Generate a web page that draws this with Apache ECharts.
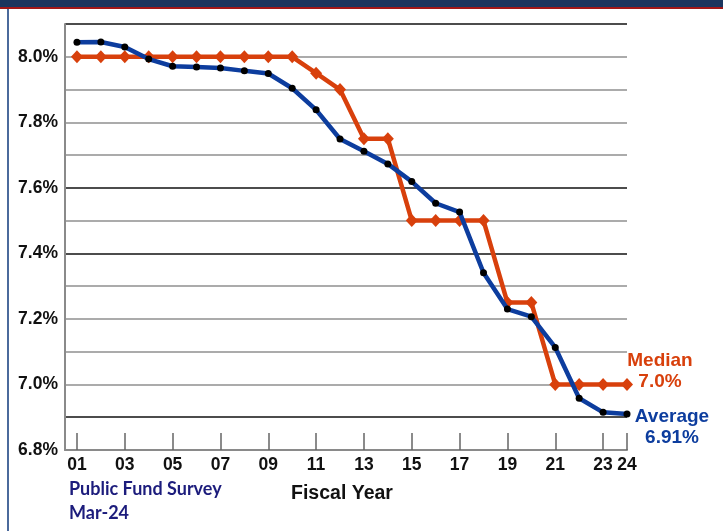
<!DOCTYPE html>
<html>
<head>
<meta charset="utf-8">
<script src="https://cdn.jsdelivr.net/npm/echarts@6/dist/echarts.min.js"></script>
<style>
  html, body { margin: 0; padding: 0; background: #fff; }
  #chart { width: 723px; height: 531px; }
</style>
</head>
<body>
<div id="chart"></div>
<script>
// Fiscal years (2001 .. 2024), shown as two-digit labels
const fiscalYears = [1, 2, 3, 4, 5, 6, 7, 8, 9, 10, 11, 12, 13, 14, 15, 16, 17, 18, 19, 20, 21, 22, 23, 24];
// Year ticks labelled along the bottom axis
const yearTicks = [1, 3, 5, 7, 9, 11, 13, 15, 17, 19, 21, 23, 24];
// Median assumed investment return (%)
const medianReturn = [8.0, 8.0, 8.0, 8.0, 8.0, 8.0, 8.0, 8.0, 8.0, 8.0, 7.95, 7.90, 7.75, 7.75, 7.5, 7.5, 7.5, 7.5, 7.25, 7.25, 7.0, 7.0, 7.0, 7.0];
// Average assumed investment return (%)
const averageReturn = [8.044, 8.045, 8.030, 7.993, 7.971, 7.969, 7.966, 7.957, 7.949, 7.904, 7.838, 7.749, 7.712, 7.673, 7.619, 7.553, 7.526, 7.341, 7.230, 7.207, 7.113, 6.958, 6.915, 6.91];

const pairs = arr => fiscalYears.map((y, i) => [y, arr[i]]);
const pad2 = v => (v < 10 ? '0' : '') + v;

const RED = '#d8400c';
const BLUE = '#0d3d9e';
const FONT = '"Liberation Sans", Arial, sans-serif';

// Gridline colours cycle from the bottom of the value axis upward
const gridColors = ['#777', '#111', '#8f8f8f', '#8f8f8f', '#8f8f8f', '#8f8f8f', '#111', '#8f8f8f', '#111', '#8f8f8f', '#8f8f8f', '#8f8f8f', '#8f8f8f', '#111'];

const chart = echarts.init(document.getElementById('chart'), null, { renderer: 'canvas' });
chart.setOption({
  animation: false,
  backgroundColor: '#fff',
  grid: { left: 65, right: 96, top: 24, bottom: 81, containLabel: false },
  xAxis: {
    type: 'value',
    min: 0.5,
    max: 24,
    axisLine: { show: true, lineStyle: { color: '#8a8a8a', width: 2 } },
    axisTick: {
      show: true, inside: true, length: 17,
      customValues: yearTicks,
      lineStyle: { color: '#666', width: 1.5 }
    },
    axisLabel: {
      show: true,
      customValues: yearTicks,
      formatter: v => pad2(v),
      color: '#111', fontFamily: FONT, fontWeight: 'bold', fontSize: 17.5,
      margin: 6
    },
    splitLine: { show: false },
    name: 'Fiscal Year',
    nameLocation: 'middle',
    nameGap: 34,
    nameTextStyle: { color: '#111', fontFamily: FONT, fontWeight: 'bold', fontSize: 19.5, padding: [0, 8, 0, 0] }
  },
  yAxis: {
    type: 'value',
    min: 6.8,
    max: 8.1,
    interval: 0.1,
    axisLine: { show: true, lineStyle: { color: '#8a8a8a', width: 2 } },
    axisTick: { show: false },
    axisLabel: {
      formatter: v => (Math.round(v * 10) % 2 === 0 ? v.toFixed(1) + '%' : ''),
      color: '#111', fontFamily: FONT, fontWeight: 'bold', fontSize: 17.5,
      margin: 7
    },
    splitLine: { show: true, lineStyle: { color: gridColors, width: 1.6 } }
  },
  series: [
    {
      name: 'Median',
      type: 'line',
      data: pairs(medianReturn),
      symbol: 'diamond',
      symbolSize: [12, 13],
      itemStyle: { color: RED },
      lineStyle: { color: RED, width: 4.5 },
      z: 3,
      endLabel: {
        show: true,
        align: 'center',
        offset: [25, -13],
        lineHeight: 21,
        formatter: p => 'Median\n' + p.value[1].toFixed(1) + '%',
        color: RED, fontFamily: FONT, fontWeight: 'bold', fontSize: 19
      }
    },
    {
      name: 'Average',
      type: 'line',
      data: pairs(averageReturn),
      symbol: 'circle',
      symbolSize: 7,
      itemStyle: { color: '#000' },
      lineStyle: { color: BLUE, width: 4.5 },
      z: 4,
      endLabel: {
        show: true,
        align: 'center',
        offset: [37, 13],
        lineHeight: 21,
        formatter: p => 'Average\n' + p.value[1].toFixed(2) + '%',
        color: BLUE, fontFamily: FONT, fontWeight: 'bold', fontSize: 19
      }
    }
  ],
  graphic: [
    { type: 'rect', shape: { x: 0, y: 0, width: 723, height: 7 }, style: { fill: '#1b355e' }, silent: true },
    { type: 'rect', shape: { x: 0, y: 7, width: 723, height: 2 }, style: { fill: '#a01818' }, silent: true },
    { type: 'rect', shape: { x: 7, y: 9, width: 2, height: 522 }, style: { fill: '#4b6a9c' }, silent: true },
    {
      type: 'text', left: 69, top: 480,
      style: { text: 'Public Fund Survey', fill: '#1c1c7c', font: 'bold 18px Lato, "Open Sans", sans-serif' }
    },
    {
      type: 'text', left: 69, top: 504,
      style: { text: 'Mar-24', fill: '#1c1c7c', font: 'bold 18px Lato, "Open Sans", sans-serif' }
    }
  ]
});
</script>
</body>
</html>
